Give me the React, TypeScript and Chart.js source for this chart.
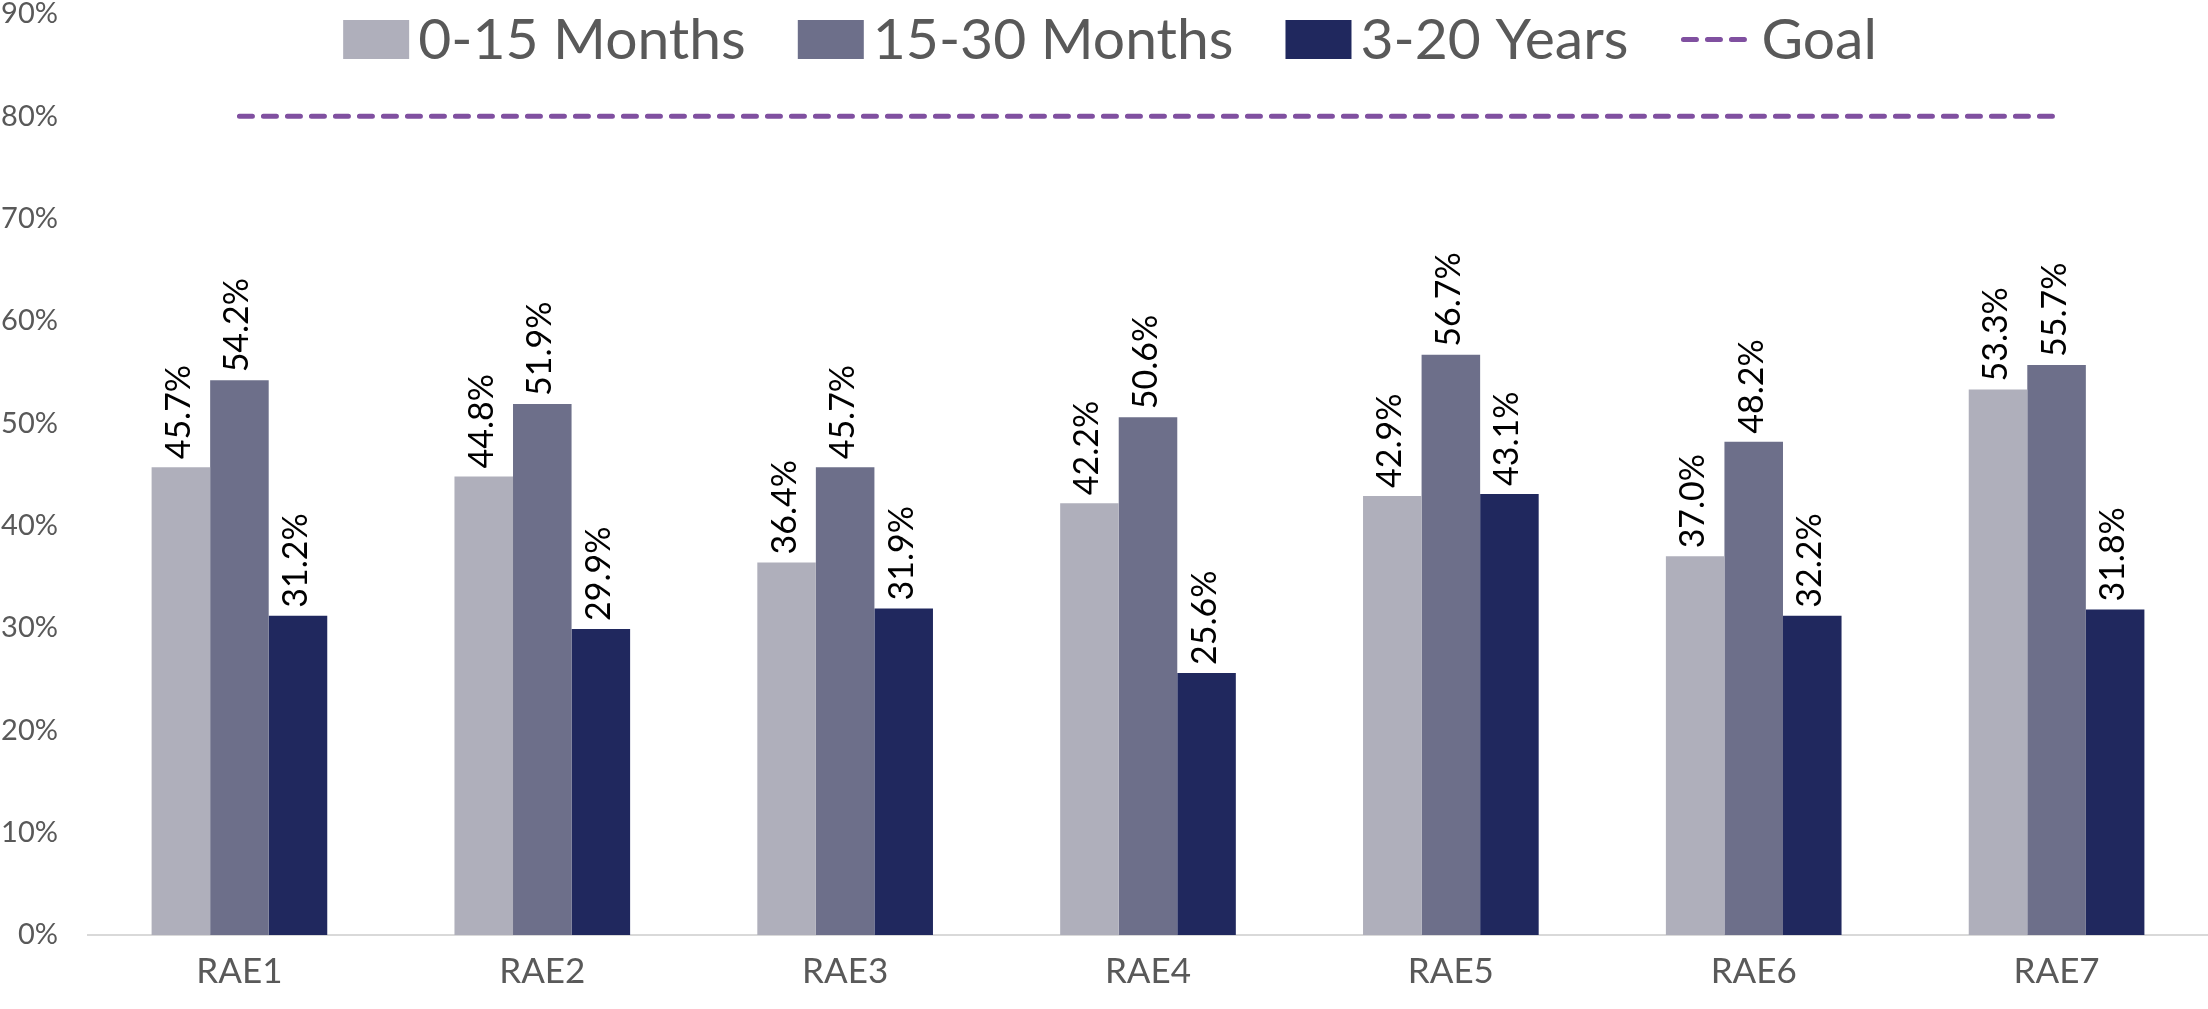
import React, { useEffect, useRef } from "react";
import { Chart, registerables } from "chart.js";

Chart.register(...registerables);

const categories = ["RAE1", "RAE2", "RAE3", "RAE4", "RAE5", "RAE6", "RAE7"];
const months0to15 = [45.7, 44.8, 36.4, 42.2, 42.9, 37.0, 53.3];
const months15to30 = [54.2, 51.9, 45.7, 50.6, 56.7, 48.2, 55.7];
const years3to20 = [31.2, 29.9, 31.9, 25.6, 43.1, 31.2, 31.8];
// printed data labels (the RAE6 3-20 Years label reads 32.2% in the original)
const months0to15Labels = [45.7, 44.8, 36.4, 42.2, 42.9, 37.0, 53.3];
const months15to30Labels = [54.2, 51.9, 45.7, 50.6, 56.7, 48.2, 55.7];
const years3to20Labels = [31.2, 29.9, 31.9, 25.6, 43.1, 32.2, 31.8];
const goal = [80, 80, 80, 80, 80, 80, 80];
const seriesNames = ["0-15 Months", "15-30 Months", "3-20 Years", "Goal"];
const yMax = 90;
const yStep = 10;

const COLORS = ["#AFAFBB", "#6D6F8A", "#20285E"];
const GOAL_COLOR = "#8050A0";
const TEXT = "#595959";
const FONT = "Lato, 'Open Sans', sans-serif";

const labelSets = [months0to15Labels, months15to30Labels, years3to20Labels];

const dataLabelPlugin = {
  id: "dataLabels",
  afterDatasetsDraw(chart: any) {
    const ctx = chart.ctx;
    ctx.save();
    ctx.font = `34px ${FONT}`;
    ctx.fillStyle = "#000000";
    ctx.textAlign = "left";
    ctx.textBaseline = "middle";
    for (let d = 0; d < 3; d++) {
      const meta = chart.getDatasetMeta(d);
      meta.data.forEach((bar: any, i: number) => {
        const txt = labelSets[d][i].toFixed(1) + "%";
        ctx.save();
        ctx.translate(bar.x - 2, bar.y - 8);
        ctx.rotate(-Math.PI / 2);
        ctx.fillText(txt, 0, 0);
        ctx.restore();
      });
    }
    ctx.restore();
  },
};

const legendPlugin = {
  id: "customLegend",
  afterDraw(chart: any) {
    const ctx = chart.ctx;
    const ds = chart.data.datasets;
    ctx.save();
    ctx.font = `57px ${FONT}`;
    const boxW = 66;
    const lineW = 72;
    const boxH = 39;
    const gapBoxText = 9;
    const itemGap = 52;
    const widths = ds.map(
      (d: any) => (d.type === "line" ? lineW : boxW) + gapBoxText + ctx.measureText(d.label).width
    );
    const total = widths.reduce((a: number, b: number) => a + b, 0) + itemGap * (ds.length - 1);
    let x = 1110 - total / 2;
    const baseline = 59;
    const boxTop = 20;
    ds.forEach((d: any, i: number) => {
      let w = boxW;
      if (d.type === "line") {
        w = lineW;
        ctx.save();
        ctx.strokeStyle = d.borderColor;
        ctx.lineWidth = 5;
        ctx.lineCap = "round";
        ctx.setLineDash([13, 11]);
        ctx.beginPath();
        ctx.moveTo(x + 3, boxTop + boxH / 2);
        ctx.lineTo(x + lineW - 3, boxTop + boxH / 2);
        ctx.stroke();
        ctx.restore();
      } else {
        ctx.fillStyle = d.backgroundColor;
        ctx.fillRect(x, boxTop, boxW, boxH);
      }
      ctx.fillStyle = TEXT;
      ctx.textAlign = "left";
      ctx.textBaseline = "alphabetic";
      ctx.fillText(d.label, x + w + gapBoxText, baseline);
      x += widths[i] + itemGap;
    });
    ctx.restore();
  },
};

export default function App() {
  const ref = useRef<HTMLCanvasElement | null>(null);
  useEffect(() => {
    if (!ref.current) return;
    const chart = new Chart(ref.current, {
      type: "bar",
      data: {
        labels: categories,
        datasets: [
          {
            type: "bar",
            label: seriesNames[0],
            data: months0to15,
            backgroundColor: COLORS[0],
            borderWidth: 0,
            order: 2,
          },
          {
            type: "bar",
            label: seriesNames[1],
            data: months15to30,
            backgroundColor: COLORS[1],
            borderWidth: 0,
            order: 2,
          },
          {
            type: "bar",
            label: seriesNames[2],
            data: years3to20,
            backgroundColor: COLORS[2],
            borderWidth: 0,
            order: 2,
          },
          {
            type: "line",
            label: seriesNames[3],
            data: goal,
            borderColor: GOAL_COLOR,
            backgroundColor: GOAL_COLOR,
            borderWidth: 5,
            borderDash: [13, 11],
            borderCapStyle: "round",
            pointRadius: 0,
            fill: false,
            order: 1,
          },
        ] as any,
      },
      options: {
        responsive: false,
        animation: false,
        layout: { padding: 0, autoPadding: false },
        datasets: {
          bar: { categoryPercentage: 0.58, barPercentage: 1 },
        },
        plugins: {
          legend: { display: false },
          tooltip: { enabled: false },
          title: { display: false },
        },
        scales: {
          x: {
            grid: { display: false, drawTicks: false },
            border: { display: true, color: "#D9D9D9", width: 2 },
            ticks: {
              color: TEXT,
              font: { family: FONT, size: 35 },
              padding: 16,
              maxRotation: 0,
            },
            afterFit: (scale: any) => {
              scale.height = 74;
              scale.paddingLeft = 0;
              scale.paddingRight = 0;
            },
          },
          y: {
            min: 0,
            max: yMax,
            grid: { display: false, drawTicks: false },
            border: { display: false },
            ticks: {
              stepSize: yStep,
              color: TEXT,
              font: { family: FONT, size: 29, lineHeight: 1 },
              padding: 30,
              callback: (v: any) => `${v}%`,
            },
            afterFit: (scale: any) => {
              scale.width = 88;
              scale.paddingTop = 14;
              scale.paddingBottom = 0;
            },
          },
        },
      } as any,
      plugins: [dataLabelPlugin, legendPlugin],
    });
    return () => chart.destroy();
  }, []);
  return (
    <div style={{ position: "absolute", left: 0, top: 0, width: 2208, height: 1009, background: "#fff" }}>
      <canvas ref={ref} width={2208} height={1009} style={{ display: "block" }} />
    </div>
  );
}
